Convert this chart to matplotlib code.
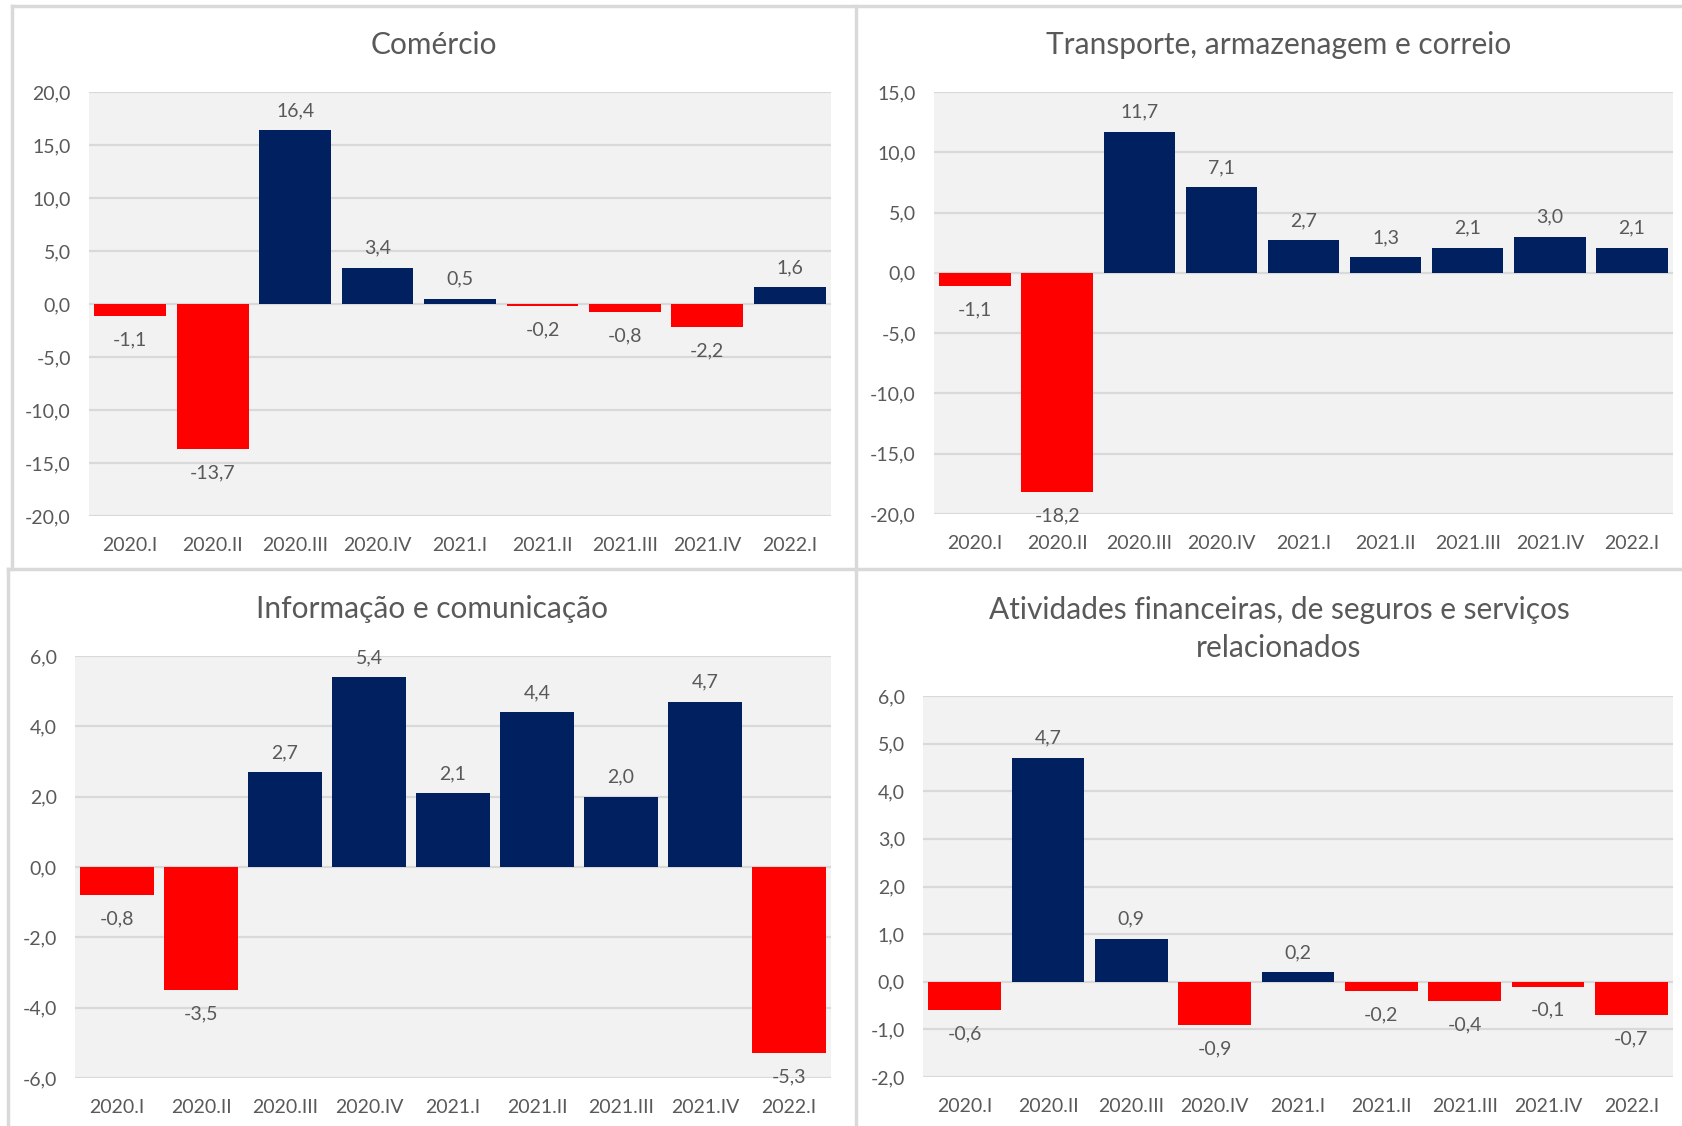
import matplotlib.pyplot as plt
from matplotlib.lines import Line2D

W, H = 1682, 1126

quarters = ['2020.I', '2020.II', '2020.III', '2020.IV', '2021.I',
            '2021.II', '2021.III', '2021.IV', '2022.I']

comercio = [-1.1, -13.7, 16.4, 3.4, 0.5, -0.2, -0.8, -2.2, 1.6]
transporte = [-1.1, -18.2, 11.7, 7.1, 2.7, 1.3, 2.1, 3.0, 2.1]
informacao = [-0.8, -3.5, 2.7, 5.4, 2.1, 4.4, 2.0, 4.7, -5.3]
financeiras = [-0.6, 4.7, 0.9, -0.9, 0.2, -0.2, -0.4, -0.1, -0.7]

titles = ['Comércio', 'Transporte, armazenagem e correio',
          'Informação e comunicação',
          'Atividades financeiras, de seguros e serviços\nrelacionados']

NAVY = '#002060'
RED = '#FF0000'
TXT = '#595959'
GRID = '#D9D9D9'
BG = '#F2F2F2'

plt.rcParams['font.family'] = ['Lato', 'DejaVu Sans']

fig = plt.figure(figsize=(W / 100, H / 100), dpi=100)


def px_rect(x0, y0, x1, y1):
    return [x0 / W, 1 - y1 / H, (x1 - x0) / W, (y1 - y0) / H]


def panel(rect, values, ymin, ymax, step, title, title_xy):
    ax = fig.add_axes(px_rect(*rect))
    ax.set_facecolor(BG)
    x = range(len(values))
    colors = [NAVY if v >= 0 else RED for v in values]
    ax.bar(x, values, width=0.87, color=colors, zorder=3)
    ax.set_xlim(-0.5, len(values) - 0.5)
    ax.set_ylim(ymin, ymax)
    ticks = []
    t = ymin
    while t <= ymax + 1e-9:
        ticks.append(round(t, 6))
        t += step
    ax.set_yticks(ticks)
    ax.set_yticklabels([f'{v:.1f}'.replace('.', ',') for v in ticks])
    ax.set_xticks(list(x))
    ax.set_xticklabels(quarters)
    ax.yaxis.grid(True, color=GRID, linewidth=1.6, zorder=0)
    ax.set_axisbelow(True)
    for s in ax.spines.values():
        s.set_visible(False)
    ax.tick_params(length=0, colors=TXT, labelsize=14)
    ax.tick_params(axis='y', pad=13)
    ax.tick_params(axis='x', pad=15)
    for i, v in enumerate(values):
        lab = f'{v:.1f}'.replace('.', ',')
        if v >= 0:
            ax.annotate(lab, (i, v), xytext=(0, 8), textcoords='offset points',
                        ha='center', va='bottom', color=TXT, fontsize=14, zorder=4)
        else:
            ax.annotate(lab, (i, v), xytext=(0, -11), textcoords='offset points',
                        ha='center', va='top', color=TXT, fontsize=14, zorder=4)
    fig.text(title_xy[0] / W, 1 - title_xy[1] / H, title, ha='center', va='center',
             fontsize=21.5, color=TXT, linespacing=1.42)
    return ax


panel((89, 92, 831, 516), comercio, -20, 20, 5, titles[0], (434, 45))
panel((934, 92, 1673, 514), transporte, -20, 15, 5, titles[1], (1279, 45))
panel((75, 656, 831, 1078), informacao, -6, 6, 2, titles[2], (432, 609))
panel((923, 696, 1673, 1077), financeiras, -2, 6, 1, titles[3], (1279, 629))

# panel borders
border_lines = [
    ((12, 1682), (6, 6)),
    ((12, 12), (6, 569)),
    ((8, 8), (569, 1126)),
    ((8, 1682), (569, 569)),
    ((856, 856), (6, 1126)),
]
for xs, ys in border_lines:
    fig.add_artist(Line2D([xs[0] / W, xs[1] / W], [1 - ys[0] / H, 1 - ys[1] / H],
                          transform=fig.transFigure, color=GRID, linewidth=2.5))

fig.savefig('out.png', dpi=100, facecolor='white')
